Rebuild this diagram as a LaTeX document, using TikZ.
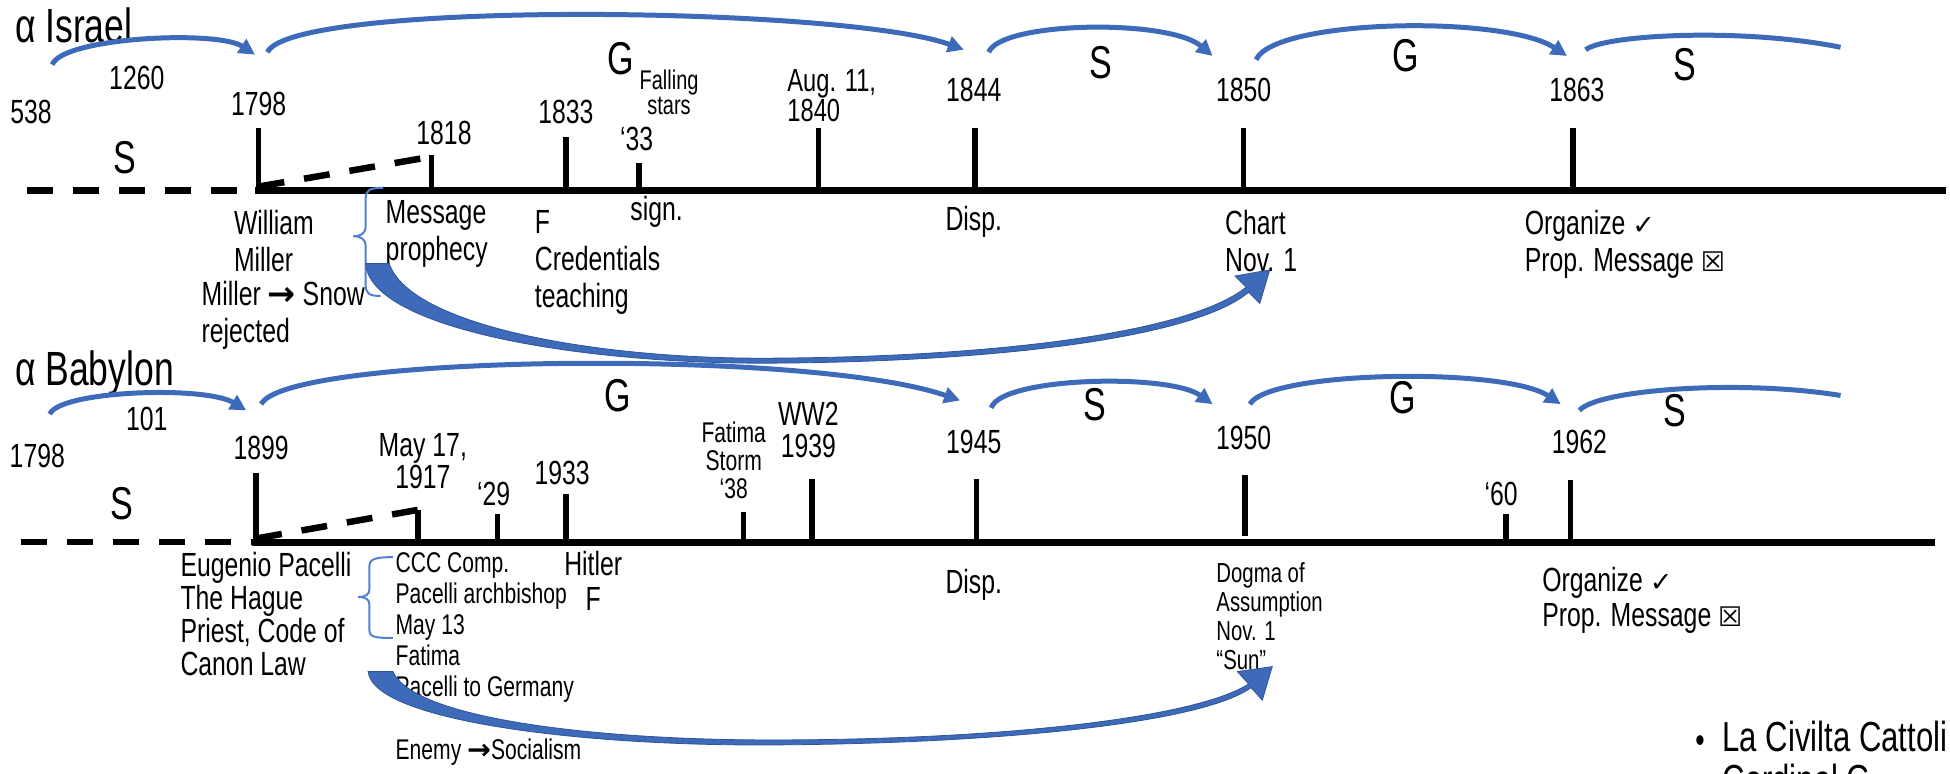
\documentclass[tikz,border=0pt]{standalone}
\usepackage{fontspec}
\setmainfont{Liberation Sans}[FakeStretch=0.74]
\newfontfamily\symfont{DejaVu Sans}
\usetikzlibrary{arrows.meta}
\setlength{\lineskiplimit}{-100pt}

\definecolor{hopblue}{RGB}{62,106,186}
\definecolor{hopedge}{RGB}{47,85,151}
\definecolor{bracecol}{RGB}{79,129,209}

\newcommand{\fyr}{\fontsize{33.5}{38}\selectfont}
\newcommand{\fsm}{\fontsize{28.5}{31}\selectfont}
\newcommand{\fgs}{\fontsize{46}{48}\selectfont}
\newcommand{\fhead}{\fontsize{48}{50}\selectfont}
\newcommand{\chk}{{\symfont\fontsize{27}{30}\selectfont ✓}}
\newcommand{\xbox}{{\symfont\bfseries\fontsize{27}{30}\selectfont ☒}}
\newcommand{\rarr}{{\symfont\bfseries →}}

\def\tk{\draw[yeartick]}
\def\bhop{\draw[hoparc]}

\begin{document}
\begin{tikzpicture}[x=1.2436pt,y=-1.2436pt,
    yeartick/.style={line width=5.5pt},
    axis/.style={line width=7pt},
    dashaxis/.style={line width=6.5pt,dash pattern=on 26pt off 20pt},
    hoparc/.style={hopblue,line width=5pt,-{Triangle[length=16pt,width=16pt]}},
    swoosh/.style={fill=hopblue,draw=hopedge,line width=0.8pt},
    curly/.style={bracecol,line width=2pt},
    yr/.style={font=\fyr,inner sep=0pt},
    gs/.style={font=\fgs,inner sep=0pt},
    note/.style={font=\fyr,inner sep=0pt,align=left,anchor=north west},
    smallnote/.style={font=\fsm,inner sep=0pt,align=left,anchor=north west}]
\useasboundingbox (0,0) rectangle (1568,622);
\clip (0,0) rectangle (1568,622);

% Israel line
\draw[dashaxis] (22,153) -- (208,153);
\draw[axis] (205,153) -- (1565,153);
\draw[dashaxis] (208,150) -- (347,126);
\tk (208,153) -- (208,103);
\tk (347,153) -- (347,125);
\tk (455,153) -- (455,110);
\tk (514,153) -- (514,131);
\tk (658,153) -- (658,103);
\tk (784,153) -- (784,103);
\tk (1000,153) -- (1000,103);
\tk (1265,153) -- (1265,103);

\node[font=\fhead,inner sep=0pt,anchor=west] (israel) at (12,20) {α Israel};
\node[yr] (i538) at (25,90) {538};
\node[yr] (i1260) at (110,63) {1260};
\node[yr] (i1798) at (208,84) {1798};
\node[gs] (is0) at (100,127) {S};
\node[yr] (i1818) at (357,107) {1818};
\node[yr] (i1833) at (455,90) {1833};
\node[gs] (ig1) at (499,47) {G};
\node[smallnote,align=center,anchor=north,font=\fontsize{27}{25}\selectfont] (istars) at (538,56) {Falling\\stars};
\node[yr] (i33) at (512,112) {‘33};
\node[note,font=\fontsize{32}{30}\selectfont] (i1840) at (633,56) {Aug. 11,\\1840};
\node[yr] (i1844) at (783,72) {1844};
\node[gs] (is1) at (885,50) {S};
\node[yr] (i1850) at (1000,72) {1850};
\node[gs] (ig2) at (1130,45) {G};
\node[yr] (i1863) at (1268,72) {1863};
\node[gs] (is2) at (1355,52) {S};

\bhop (42,52) .. controls (50,30) and (175,24) .. (205,44);
\bhop (215,42) .. controls (235,0) and (680,5) .. (775,40);
\bhop (795,42) .. controls (805,17) and (940,15) .. (975,45);
\bhop (1010,48) .. controls (1025,15) and (1210,12) .. (1260,45);
\draw[hoparc,-] (1275,40) .. controls (1290,28) and (1400,22) .. (1480,38);

\node[note,font=\fontsize{33.5}{37}\selectfont] (miller) at (188,169) {William\\Miller};
\node[note,font=\fontsize{33.5}{37}\selectfont] (snow) at (162,226) {Miller \rarr{} Snow\\rejected};
\node[note,font=\fontsize{33.5}{37}\selectfont] (msg) at (310,161) {Message\\prophecy};
\node[note,font=\fontsize{33.5}{37}\selectfont] (cred) at (430,169) {F\\Credentials\\teaching};
\node[yr] (sign) at (528,170) {sign.};
\node[yr] (disp1) at (783,178) {Disp.};
\node[note,font=\fontsize{33.5}{37}\selectfont] (chart) at (985,169) {Chart\\Nov. 1};
\node[note,font=\fontsize{33.5}{37}\selectfont] (org1) at (1226,169) {Organize \chk\\Prop. Message \xbox};

\draw[curly] (308,151) .. controls (297,151) and (294,153) .. (294,160) -- (294,182)
  .. controls (294,188) and (290,190) .. (284,190) .. controls (290,190) and (294,192) .. (294,198)
  -- (294,229) .. controls (294,236) and (297,238) .. (306,238);
\filldraw[swoosh] (294,212) .. controls (298,265) and (470,293) .. (620,292)
  .. controls (800,291) and (960,272) .. (1004,235)
  -- (1013,244) -- (1021,217) -- (993,222) -- (1002,231)
  .. controls (955,268) and (800,287) .. (620,288)
  .. controls (480,289) and (330,262) .. (313,212) -- cycle;

% Babylon line
\draw[dashaxis] (17,436) -- (205,436);
\draw[axis] (203,436) -- (1556,436);
\draw[dashaxis] (206,433) -- (336,410);
\tk (206,436) -- (206,380);
\tk (336,436) -- (336,410);
\tk (400,436) -- (400,413);
\tk (455,436) -- (455,397);
\tk (598,436) -- (598,412);
\tk (653,436) -- (653,385);
\tk (785,436) -- (785,385);
\tk (1001,431) -- (1001,382);
\tk (1211,436) -- (1211,413);
\tk (1263,436) -- (1263,386);

\node[font=\fhead,inner sep=0pt,anchor=west] (babylon) at (12,300) {α Babylon};
\node[yr] (b101) at (118,337) {101};
\node[yr] (b1798) at (30,367) {1798};
\node[yr] (b1899) at (210,360) {1899};
\node[gs] (bs0) at (98,405) {S};
\node[gs] (bg1) at (497,318) {G};
\node[yr,align=center,anchor=north,font=\fontsize{33.5}{32}\selectfont] (b1917) at (340,348) {May 17,\\1917};
\node[yr] (b29) at (397,397) {‘29};
\node[yr] (b1933) at (452,380) {1933};
\node[smallnote,align=center,anchor=north,font=\fontsize{28.5}{28}\selectfont] (storm) at (590,339) {Fatima\\Storm\\‘38};
\node[yr,align=center,anchor=north,font=\fontsize{33.5}{32}\selectfont] (b1939) at (650,323) {WW2\\1939};
\node[yr] (b1945) at (783,355) {1945};
\node[gs] (bs1) at (880,325) {S};
\node[yr] (b1950) at (1000,352) {1950};
\node[gs] (bg2) at (1128,320) {G};
\node[yr] (b60) at (1207,397) {‘60};
\node[yr] (b1962) at (1270,355) {1962};
\node[gs] (bs2) at (1347,330) {S};

\bhop (40,333) .. controls (48,314) and (165,310) .. (198,330);
\bhop (210,325) .. controls (230,285) and (650,280) .. (772,322);
\bhop (797,328) .. controls (805,303) and (940,300) .. (975,325);
\bhop (1005,325) .. controls (1020,298) and (1210,295) .. (1255,325);
\draw[hoparc,-] (1270,330) .. controls (1285,313) and (1400,305) .. (1480,318);

\node[note,font=\fontsize{33.5}{33}\selectfont] (pacelli) at (145,444) {Eugenio Pacelli\\The Hague\\Priest, Code of\\Canon Law};
\node[smallnote,font=\fontsize{28.5}{31}\selectfont] (ccc) at (318,444) {CCC Comp.\\Pacelli archbishop\\May 13\\Fatima\\Pacelli to Germany};
\node[smallnote,anchor=west] (enemy) at (318,605) {Enemy \rarr{}Socialism};
\node[yr,align=center,anchor=north,font=\fontsize{33.5}{35}\selectfont] (hitler) at (477,443) {Hitler\\F};
\node[yr] (disp2) at (783,470) {Disp.};
\node[smallnote,font=\fontsize{27.5}{29}\selectfont] (dogma) at (978,452) {Dogma of\\Assumption\\Nov. 1\\“Sun”};
\node[note,font=\fontsize{33.5}{35}\selectfont] (org2) at (1240,456) {Organize \chk\\Prop. Message \xbox};

\draw[curly] (316,448) .. controls (300,448) and (297,450) .. (297,456) -- (297,474)
  .. controls (297,478) and (294,480) .. (288,480) .. controls (294,480) and (297,482) .. (297,486)
  -- (297,506) .. controls (297,512) and (300,513) .. (316,513);
\filldraw[swoosh] (296,540) .. controls (300,580) and (470,600) .. (620,599)
  .. controls (800,598) and (965,582) .. (1006,553)
  -- (1015,563) -- (1023,536) -- (995,540) -- (1004,550)
  .. controls (960,578) and (800,595) .. (620,595)
  .. controls (480,595) and (332,578) .. (316,540) -- cycle;

\node[font=\fontsize{36}{36}\selectfont,inner sep=0pt] (dot) at (1367,598) {\textbullet};
\node[font=\fontsize{42}{44}\selectfont,inner sep=0pt,anchor=west] (civ) at (1385,592) {La Civilta Cattoli};
\node[font=\fontsize{42}{44}\selectfont,inner sep=0pt,anchor=west] (card) at (1385,627) {Cardinal G};
\end{tikzpicture}
\end{document}
